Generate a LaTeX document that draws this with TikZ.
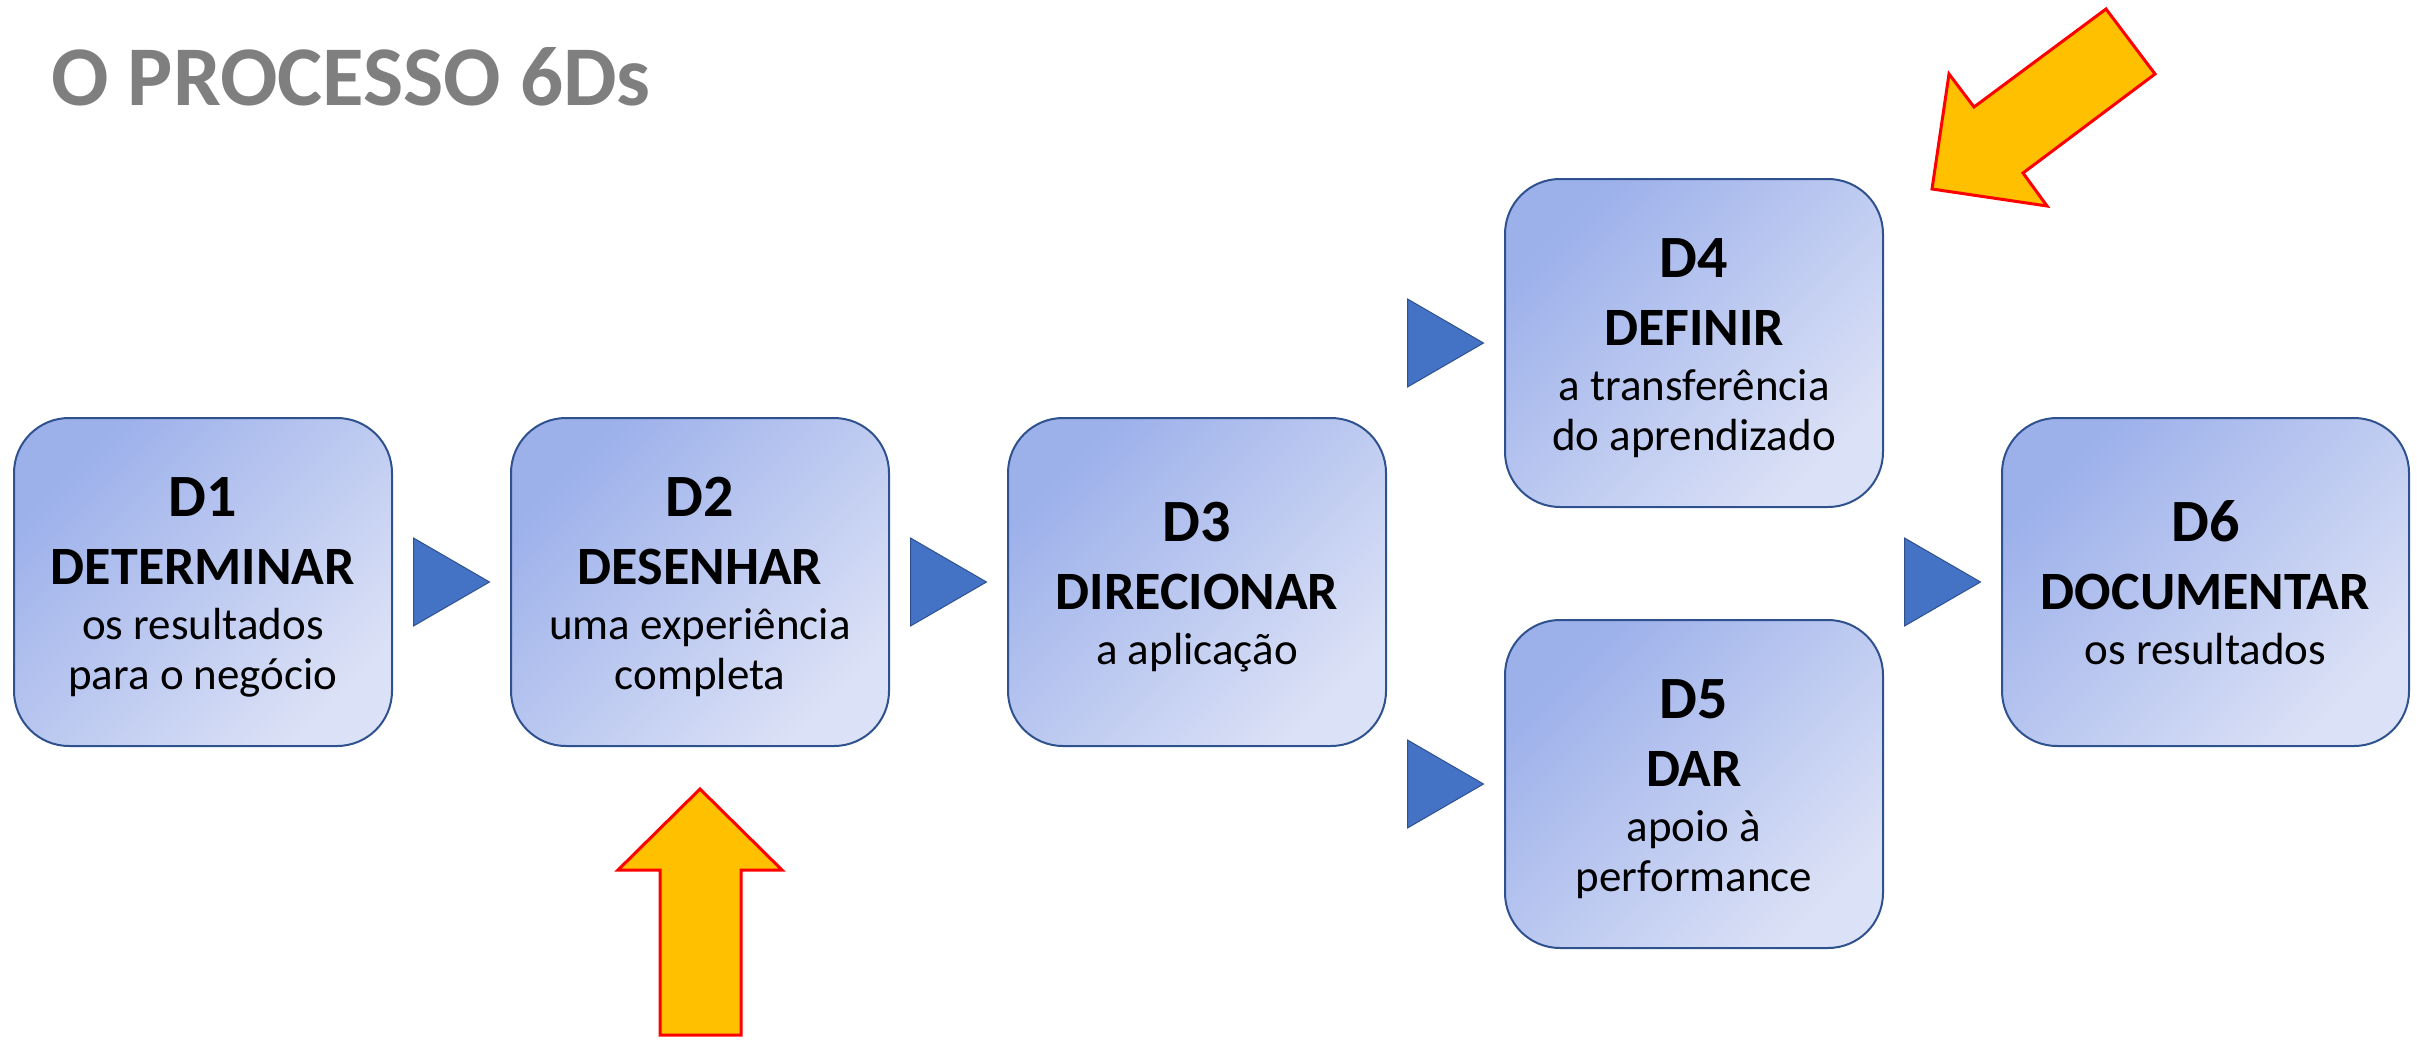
\documentclass[tikz,border=0pt]{standalone}
\usepackage{fontspec}
\setmainfont{Carlito}
\usetikzlibrary{positioning}
\usetikzlibrary{calc}

\definecolor{boxtop}{RGB}{156,176,234}
\definecolor{boxbot}{RGB}{219,225,246}
\definecolor{boxline}{RGB}{47,82,143}
\definecolor{triblue}{RGB}{68,114,196}
\definecolor{gold}{RGB}{255,192,0}
\definecolor{titlegray}{RGB}{127,127,127}

% first line carries a tall strut, body lines a normal one
\newcommand{\dnumfont}{\fontsize{60}{60}\selectfont\bfseries\rule{0pt}{57pt}}
\newcommand{\dverbfont}{\fontsize{54}{60}\selectfont\bfseries}
\newcommand{\dbodyfont}{\fontsize{45}{50}\selectfont\mdseries}

\begin{document}
\begin{tikzpicture}
  [x=1pt,y=-1pt,node distance=117pt,
   dbox/.style={rectangle,rounded corners=55pt,draw=boxline,line width=2pt,top color=boxtop,bottom color=boxbot,shading angle=45,minimum width=378pt,minimum height=328pt,inner sep=0pt,align=center,font=\dbodyfont},
   tri/.style={fill=triblue,draw=boxline,line width=1pt},
   bigarrow/.style={fill=gold,draw=red,line width=3pt,line join=miter}]
  \useasboundingbox (0,0) rectangle (2428,1039);

  \node[anchor=base west,inner sep=0pt,text=titlegray,font=\fontsize{85}{85}\selectfont\bfseries] (title) at (51,105) {O PROCESSO 6Ds};

  \node[dbox]	(d1) at (203,582)	{\dnumfont D1\\[18pt] \dverbfont DETERMINAR\\[5pt] os resultados\strut\\ para o negócio\strut};
  \node[dbox]	(d2) [right= of d1]	{\dnumfont D2\\[18pt] \dverbfont DESENHAR\\[5pt] uma experiência\strut\\ completa\strut};
  \node[dbox]	(d3) [right= of d2]	{\dnumfont D3\\[18pt] \dverbfont DIRECIONAR\\[5pt] a aplicação\strut};
  \node[dbox]	(d4) [right= of d3,yshift=239pt]	{\dnumfont D4\\[18pt] \dverbfont DEFINIR\\[5pt] a transferência\strut\\ do aprendizado\strut};
  \node[dbox]	(d5) [right= of d3,yshift=-202pt]	{\dnumfont D5\\[18pt] \dverbfont DAR\\[5pt] apoio à\strut\\ performance\strut};
  \node[dbox,minimum width=407pt]	(d6) [right= of d4,yshift=-239pt]	{\dnumfont D6\\[18pt] \dverbfont DOCUMENTAR\\[5pt] os resultados\strut};

  % triangles between the steps
  \draw[tri] ($(d1.east)!0.5!(d2.west)$) ++(-38,-44) -- ++(76,44) -- ++(-76,44) -- cycle;
  \draw[tri] ($(d2.east)!0.5!(d3.west)$) ++(-38,-44) -- ++(76,44) -- ++(-76,44) -- cycle;
  \draw[tri] ($(d3.east |- d4.west)!0.5!(d4.west)$) ++(-38,-44) -- ++(76,44) -- ++(-76,44) -- cycle;
  \draw[tri] ($(d3.east |- d5.west)!0.5!(d5.west)$) ++(-38,-44) -- ++(76,44) -- ++(-76,44) -- cycle;
  \draw[tri] ($(d4.east |- d6.west)!0.5!(d6.west)$) ++(-38,-44) -- ++(76,44) -- ++(-76,44) -- cycle;

  % yellow arrows
  \draw[bigarrow] (700,789) -- (782,870) -- (741,870) -- (741,1035) -- (660,1035) -- (660,870) -- (618,870) -- cycle;
  \draw[bigarrow] (1932,189) -- (1949,74) -- (1974,107) -- (2106,9) -- (2155,74) -- (2023,173) -- (2047,206) -- cycle;
\end{tikzpicture}
\end{document}
